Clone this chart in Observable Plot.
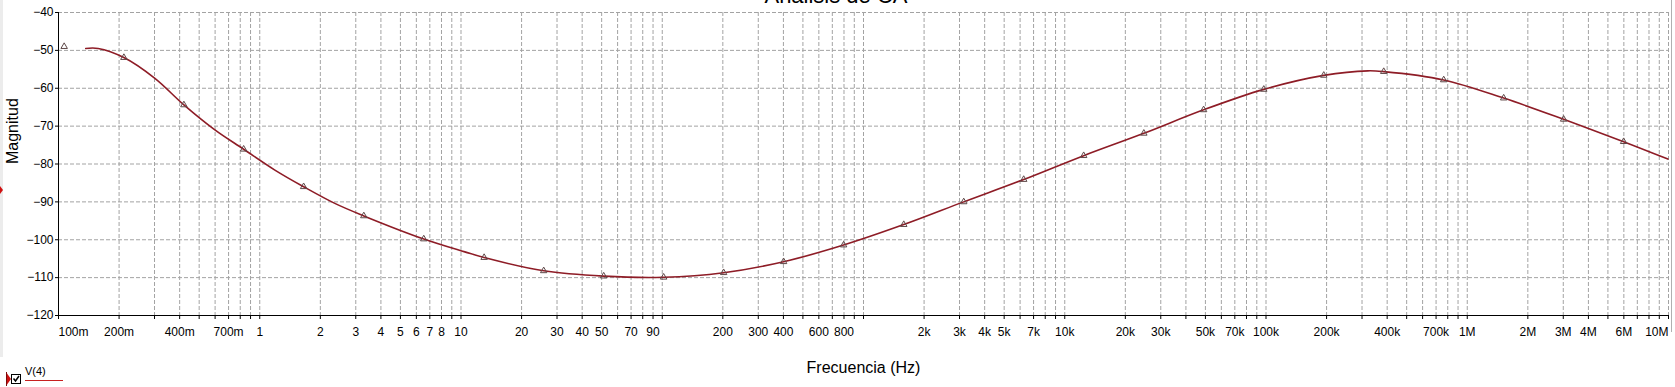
<!DOCTYPE html>
<html><head><meta charset="utf-8">
<script src="https://cdn.jsdelivr.net/npm/d3@7"></script>
<script src="https://cdn.jsdelivr.net/npm/@observablehq/plot@0.6"></script>
<style>
html,body{margin:0;padding:0;background:#fff;overflow:hidden}
#wrap{position:relative;width:1675px;height:387px;overflow:hidden;font-family:"Liberation Sans",Arial,sans-serif}
#title{position:absolute;left:586px;width:500px;top:-14.6px;text-align:center;font-size:22px;line-height:22px;color:#000}
#deco{position:absolute;left:0;top:0;pointer-events:none}
</style></head>
<body><div id="wrap"><div id="title"></div></div>
<script>
// ---- data ----
const title = "Análisis de CA";
const xLabel = "Frecuencia (Hz)";
const yLabel = "Magnitud";
const seriesName = "V(4)";

// trace (frequency in Hz, magnitude in dB)
const lineFreq = [0.1365, 0.1574, 0.2113, 0.3013, 0.4198, 0.5984, 0.8318, 1.189, 1.652, 2.360, 3.289, 6.531, 10.45, 13.03, 25.76, 51.17, 101.6, 201.8, 400.9, 796.2, 1585, 3148, 6252, 12417, 24717, 48978, 97499, 193642, 320627, 384592, 763836, 1517050, 3013006, 5984115, 9931000];
const lineMag  = [-49.5, -49.5, -51.9, -57.4, -64.4, -71.0, -76.1, -81.6, -86.0, -90.4, -93.7, -99.8, -103.2, -104.7, -108.2, -109.6, -109.9, -108.7, -105.8, -101.4, -96.0, -90.0, -84.1, -77.8, -71.9, -65.7, -60.3, -56.6, -55.4, -55.6, -57.8, -62.6, -68.2, -74.1, -78.7];

// triangle markers along the trace
const markerFreq = [0.1067, 0.2113, 0.4198, 0.8318, 1.652, 3.289, 6.531, 13.03, 25.76, 51.17, 101.6, 201.8, 400.9, 796.2, 1585, 3148, 6252, 12417, 24717, 48978, 97499, 193642, 384592, 763836, 1517050, 3013006, 5984115];
const markerMag  = [-49.0, -51.9, -64.4, -76.1, -86.0, -93.7, -99.8, -104.7, -108.2, -109.6, -109.9, -108.7, -105.8, -101.4, -96.0, -90.0, -84.1, -77.8, -71.9, -65.7, -60.3, -56.6, -55.6, -57.8, -62.6, -68.2, -74.1];

// axis ticks
const xTickValues = [0.1, 0.2, 0.4, 0.7, 1, 2, 3, 4, 5, 6, 7, 8, 10, 20, 30, 40, 50, 70, 90, 200, 300, 400, 600, 800, 2000, 3000, 4000, 5000, 7000, 10000, 20000, 30000, 50000, 70000, 1e5, 2e5, 4e5, 7e5, 1e6, 2e6, 3e6, 4e6, 6e6, 1e7];
const xTickLabels = ["100m","200m","400m","700m","1","2","3","4","5","6","7","8","10","20","30","40","50","70","90","200","300","400","600","800","2k","3k","4k","5k","7k","10k","20k","30k","50k","70k","100k","200k","400k","700k","1M","2M","3M","4M","6M","10M"];
const yTickValues = [-120, -110, -100, -90, -80, -70, -60, -50, -40];
const xDomain = [0.1, 1e7];
const yDomain = [-120, -40];

// ---- build ----
const gridFreq = [];
for (let k = -1; k < 7; k++) for (let m = 1; m <= 9; m++) gridFreq.push(+(m * Math.pow(10, k)).toPrecision(6));
gridFreq.push(1e7);

const lineData = lineFreq.map((f, i) => ({f, m: lineMag[i]}));
const markData = markerFreq.map((f, i) => ({f, m: markerMag[i]}));
const xt = xTickValues.map((v, i) => ({v, t: xTickLabels[i]}));

const W = 1675, H = 387;
const grid = {stroke: "#a3a3a3", strokeDasharray: "4,2", strokeWidth: 1};
const tickText = {x: "v", text: "t", frameAnchor: "bottom", lineAnchor: "top", dy: 11.5, fill: "#000"};

const chart = Plot.plot({
  width: W, height: H,
  marginLeft: 58, marginRight: 7, marginTop: 12, marginBottom: 72,
  style: {fontFamily: "'Liberation Sans', Arial, sans-serif", fontSize: "12px", background: "transparent", color: "#000", overflow: "visible"},
  x: {type: "log", domain: xDomain},
  y: {domain: yDomain},
  marks: [
    Plot.ruleX(gridFreq, grid),
    Plot.ruleY(yTickValues, grid),
    Plot.axisX({ticks: gridFreq, tickSize: 4, tickFormat: () => "", label: null, stroke: "#000"}),
    Plot.axisY({ticks: yTickValues, tickSize: 3, tickPadding: 2, label: null, stroke: "#000", fill: "#000"}),
    Plot.ruleX([xDomain[0]], {stroke: "#000"}),
    Plot.ruleY([yDomain[0]], {stroke: "#000"}),
    Plot.text(xt.slice(1, -1), {...tickText, textAnchor: "middle"}),
    Plot.text(xt.slice(0, 1), {...tickText, textAnchor: "start"}),
    Plot.text(xt.slice(-1), {...tickText, textAnchor: "end"}),
    Plot.line(lineData, {x: "f", y: "m", stroke: "#8e1c26", strokeWidth: 1.6, curve: "catmull-rom"}),
    Plot.dot(markData, {x: "f", y: "m", symbol: "triangle", r: 2.4, stroke: "#5e4848", fill: "none", strokeWidth: 1}),
    Plot.text([xLabel], {text: d => d, frameAnchor: "bottom", lineAnchor: "top", dy: 46.4, fontSize: 16, fill: "#000"}),
    Plot.text([yLabel], {text: d => d, frameAnchor: "left", rotate: -90, lineAnchor: "top", dx: -51.5, fontSize: 16, fill: "#000"})
  ]
});

const wrap = document.getElementById("wrap");
wrap.appendChild(chart);
document.getElementById("title").textContent = title;

// window decorations and legend (outside the plot area)
const ns = "http://www.w3.org/2000/svg";
const deco = document.createElementNS(ns, "svg");
deco.setAttribute("id", "deco");
deco.setAttribute("width", W);
deco.setAttribute("height", H);
deco.innerHTML = `
  <rect x="0" y="0" width="3" height="357" fill="#ececec"/>
  <line x1="1671.5" y1="0" x2="1671.5" y2="332" stroke="#b0b0b0"/>
  <path d="M0,186 L3,190 L0,194 Z" fill="#d01010"/>
  <path d="M6,372 L11,379 L6,386 Z" fill="#cc1111"/>
  <line x1="6.5" y1="372" x2="6.5" y2="386" stroke="#7a0a0a"/>
  <rect x="11.5" y="374.5" width="9" height="9" fill="#fff" stroke="#000"/>
  <path d="M13.5,378.5 L15.5,381 L19,376" fill="none" stroke="#000" stroke-width="1.5"/>
  <text x="25" y="375" font-size="11" font-family="'Liberation Sans', Arial, sans-serif" fill="#000"></text>
  <line x1="25" y1="380.5" x2="63" y2="380.5" stroke="#c82020"/>
`;
deco.querySelector("text").textContent = seriesName;
wrap.appendChild(deco);
</script>
</body></html>
